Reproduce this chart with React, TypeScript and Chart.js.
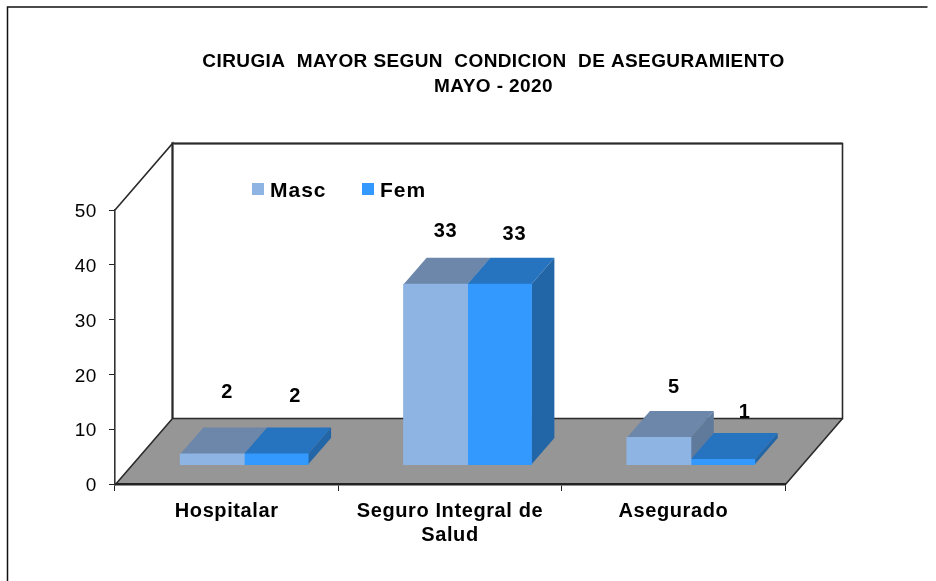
import React, { useEffect, useRef } from "react";
import { Chart, registerables } from "chart.js";

Chart.register(...registerables);

const categories: (string | string[])[] = ["Hospitalar", ["Seguro Integral de", "Salud"], "Asegurado"];
const masc = [2, 33, 5];
const fem = [2, 33, 1];
const titleLines = ["CIRUGIA  MAYOR SEGUN  CONDICION  DE ASEGURAMIENTO", "MAYO - 2020"];

const FONT = '"Liberation Sans", Arial, sans-serif';
const frontColors = ["#8DB4E2", "#3399FF"];
const topColors = ["#6D87AB", "#2673C0"];
const sideColors = ["#5F7A9B", "#2266A8"];
const labelNudges = [
  [[15, -62], [10, -53], [15, -50]],
  [[19, -58], [15, -50], [22, -47]],
];
const SHIFT = { x: 17.5, y: -19 };
const DEPTH = { x: 23, y: -26.5 };
const WALL = { x: 57.5, y: -66.5 };

const poly = (ctx: CanvasRenderingContext2D, pts: number[][], fill?: string) => {
  ctx.beginPath();
  pts.forEach(([x, y], i) => (i ? ctx.lineTo(x, y) : ctx.moveTo(x, y)));
  if (fill) {
    ctx.closePath();
    ctx.fillStyle = fill;
    ctx.fill();
  }
};

const scene3d = {
  id: "scene3d",
  beforeDraw(chart: any) {
    const { ctx, chartArea: a } = chart;
    ctx.save();
    ctx.fillStyle = "#fff";
    ctx.fillRect(0, 0, chart.width, chart.height);
    // frame
    ctx.strokeStyle = "#111";
    ctx.lineWidth = 1.5;
    ctx.beginPath();
    ctx.moveTo(7.5, 581);
    ctx.lineTo(7.5, 7);
    ctx.lineTo(927.5, 7);
    ctx.stroke();
    // floor
    const b = a.bottom + 1;
    const fl = [
      [a.left, b],
      [a.left + WALL.x, b + WALL.y],
      [a.right + WALL.x, b + WALL.y],
      [a.right, b],
    ];
    poly(ctx, fl, "#969696");
    // walls
    ctx.lineJoin = "miter";
    ctx.strokeStyle = "#9a9a9a";
    ctx.lineWidth = 3;
    const wx = a.left + WALL.x;
    const wy = a.top + WALL.y;
    poly(ctx, [[wx, b + WALL.y], [wx, wy], [a.right + WALL.x, wy]]);
    ctx.stroke();
    ctx.strokeStyle = "#2a2a2a";
    ctx.lineWidth = 1.6;
    poly(ctx, [[a.left, a.top], [wx, wy], [wx, b + WALL.y]]);
    ctx.stroke();
    poly(ctx, [[wx, wy], [a.right + WALL.x, wy], [a.right + WALL.x, b + WALL.y], [wx, b + WALL.y], [a.left, b]]);
    ctx.stroke();
    poly(ctx, [[a.right + WALL.x, b + WALL.y], [a.right, b]]);
    ctx.stroke();
    ctx.restore();
    (ctx as any).letterSpacing = "0.6px";
  },
  beforeDatasetsDraw(chart: any) {
    const { ctx } = chart;
    ctx.save();
    ctx.translate(SHIFT.x, SHIFT.y);
    chart.data.datasets.forEach((_: any, di: number) => {
      chart.getDatasetMeta(di).data.forEach((el: any) => {
        const { x, y, base, width } = el.getProps(["x", "y", "base", "width"]);
        const l = x - width / 2;
        const r = x + width / 2;
        poly(ctx, [[l, y], [r, y], [r + DEPTH.x, y + DEPTH.y], [l + DEPTH.x, y + DEPTH.y]], topColors[di]);
        poly(ctx, [[r, y], [r + DEPTH.x, y + DEPTH.y], [r + DEPTH.x, base + DEPTH.y], [r, base]], sideColors[di]);
      });
    });
  },
  afterDatasetsDraw(chart: any) {
    chart.ctx.restore();
  },
  afterDraw(chart: any) {
    const { ctx } = chart;
    ctx.save();
    ctx.fillStyle = "#000";
    ctx.textBaseline = "middle";
    // title
    ctx.textAlign = "center";
    ctx.font = `bold 19px ${FONT}`;
    (ctx as any).letterSpacing = "0.4px";
    titleLines.forEach((t, i) => ctx.fillText(t, 493.5, 62 + i * 25));
    // legend
    ctx.textAlign = "left";
    ctx.font = `bold 21px ${FONT}`;
    (ctx as any).letterSpacing = "1px";
    const legendX = [252, 362];
    chart.data.datasets.forEach((d: any, i: number) => {
      ctx.fillStyle = frontColors[i];
      ctx.fillRect(legendX[i], 183, 12, 12);
      ctx.fillStyle = "#000";
      ctx.fillText(d.label, legendX[i] + 18, 191);
    });
    // value labels
    ctx.textAlign = "center";
    ctx.font = `bold 20px ${FONT}`;
    (ctx as any).letterSpacing = "0.8px";
    chart.data.datasets.forEach((d: any, di: number) => {
      chart.getDatasetMeta(di).data.forEach((el: any, i: number) => {
        const [nx, ny] = labelNudges[di][i];
        ctx.fillText(String(d.data[i]), el.x + SHIFT.x + nx, el.y + SHIFT.y + ny);
      });
    });
    ctx.restore();
  },
};

export default function App() {
  const ref = useRef<HTMLCanvasElement>(null);
  useEffect(() => {
    const chart = new Chart(ref.current!, {
      type: "bar",
      data: {
        labels: categories as any,
        datasets: [
          { label: "Masc", data: masc, backgroundColor: frontColors[0], inflateAmount: 0.5 } as any,
          { label: "Fem", data: fem, backgroundColor: frontColors[1], inflateAmount: 0.5 } as any,
        ],
      },
      plugins: [scene3d as any],
      options: {
        responsive: false,
        animation: false,
        layout: { padding: { left: 0, top: 210, right: 151, bottom: 0 } },
        plugins: { legend: { display: false }, title: { display: false }, tooltip: { enabled: false } },
        datasets: { bar: { barPercentage: 1, categoryPercentage: 0.572, clip: false as any } },
        scales: {
          x: {
            afterFit: (s: any) => { s.height = 97; },
            grid: { drawOnChartArea: false, color: "#222", tickLength: 7, tickWidth: 1 },
            border: { color: "#222", width: 2.5 },
            ticks: {
              color: "#000",
              padding: 8,
              maxRotation: 0,
              autoSkip: false,
              font: { family: FONT, size: 20, weight: "bold", lineHeight: 1.2 },
            },
          },
          y: {
            min: 0,
            max: 50,
            afterFit: (s: any) => { s.width = 115; },
            grid: { drawOnChartArea: false, color: "#222", tickLength: 6, tickWidth: 1 },
            border: { color: "#333", width: 1.6 },
            ticks: { stepSize: 10, color: "#000", padding: 12, labelOffset: 2, font: { family: FONT, size: 19 } },
          },
        },
      },
    });
    return () => chart.destroy();
  }, []);
  return (
    <canvas
      ref={ref}
      width={936}
      height={581}
      style={{ position: "fixed", left: 0, top: 0, display: "block", width: 936, height: 581 }}
    />
  );
}
